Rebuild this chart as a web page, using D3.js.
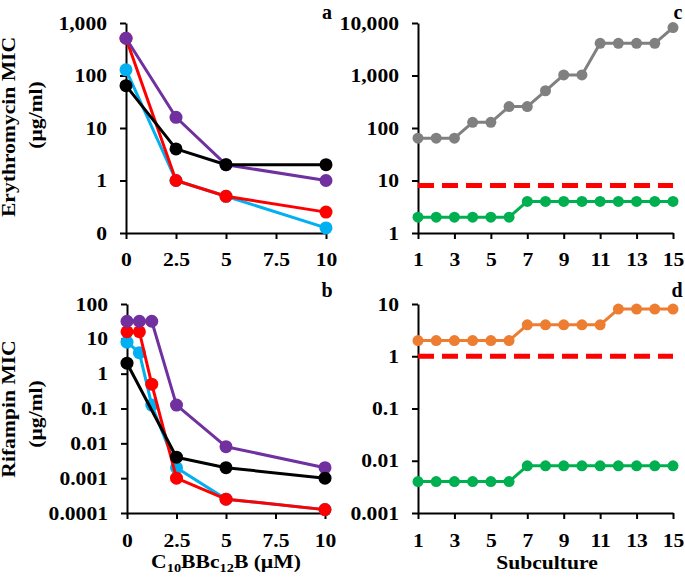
<!DOCTYPE html>
<html><head><meta charset="utf-8">
<script src="https://cdn.jsdelivr.net/npm/d3@7"></script>
<style>
body{margin:0;background:#fff}
svg{display:block}
text{font-family:"Liberation Serif","Times New Roman",Tinos,serif;font-weight:bold;fill:#000}
</style>
</head><body><svg id="c" width="685" height="579"></svg>
<script>
// ---- data ----
const concA = [0, 2.5, 5, 10];
const eryCyan = [128, 1, 0.5, 0.125];
const eryRed = [512, 1, 0.5, 0.25];
const eryPurple = [512, 16, 2, 1];
const eryBlack = [64, 4, 2, 2];

const concB = [0, 0.625, 1.25, 2.5, 5, 10];
const concBBlack = [0, 2.5, 5, 10];
const rifCyan = [8, 4, 0.125, 0.002, 0.00025, 0.000125];
const rifRed = [16, 16, 0.5, 0.001, 0.00025, 0.000125];
const rifPurple = [32, 32, 32, 0.125, 0.008, 0.002];
const rifBlack = [2, 0.004, 0.002, 0.001];

const subculture = [1,2,3,4,5,6,7,8,9,10,11,12,13,14,15];
const eryAlone = [64,64,64,128,128,256,256,512,1024,1024,4096,4096,4096,4096,8192];
const eryCombo = [2,2,2,2,2,2,4,4,4,4,4,4,4,4,4];
const eryBreakpoint = 8;
const rifAlone = [2,2,2,2,2,2,4,4,4,4,4,8,8,8,8];
const rifCombo = [0.004,0.004,0.004,0.004,0.004,0.004,0.008,0.008,0.008,0.008,0.008,0.008,0.008,0.008,0.008];
const rifBreakpoint = 1;

const concTicks = [0, 2.5, 5, 7.5, 10];
const subTicks = [1,3,5,7,9,11,13,15];
const aTicks = [0.1, 1, 10, 100, 1000];
const aLabels = ["0", "1", "10", "100", "1,000"];
const bTicks = [0.0001, 0.001, 0.01, 0.1, 1, 10, 100];
const bLabels = ["0.0001", "0.001", "0.01", "0.1", "1", "10", "100"];
const cTicks = [1, 10, 100, 1000, 10000];
const cLabels = ["1", "10", "100", "1,000", "10,000"];
const dTicks = [0.001, 0.01, 0.1, 1, 10];
const dLabels = ["0.001", "0.01", "0.1", "1", "10"];

const C = {purple:"#7030A0", cyan:"#00B0F0", red:"#FF0000", black:"#000000", grey:"#808080", green:"#00B050", orange:"#ED7D31"};
const SX = 1.2, FS = 18;

const svg = d3.select("#c");

function panel(opt){
  const x = d3.scaleLinear().domain(opt.xd).range(opt.xr);
  const y = d3.scaleLog().domain(opt.yd).range(opt.yr);
  const g = svg.append("g");
  const yl = opt.ylabels;
  const ya = g.append("g").attr("transform",`translate(${opt.xr[0]},0)`)
    .call(d3.axisLeft(y).tickValues(opt.yticks).tickFormat((d,i)=>yl[i]).tickSize(6).tickSizeOuter(0));
  const xa = g.append("g").attr("transform",`translate(0,${opt.yr[0]})`)
    .call(d3.axisBottom(x).tickValues(opt.xticks).tickFormat(d=>String(d)).tickSize(6).tickSizeOuter(0));
  [ya, xa].forEach(a=>{
    a.select(".domain").attr("stroke","#000").attr("stroke-width",2);
    a.selectAll(".tick line").attr("stroke","#000").attr("stroke-width",2);
    a.selectAll("text").style("font-size",FS+"px").attr("fill","#000");
  });
  ya.selectAll("text").attr("x",0).attr("dy","0.34em").attr("transform",`translate(-19,0) scale(${SX},1)`);
  xa.selectAll("text").attr("y",0).attr("dy",0).attr("transform",`translate(0,${opt.xlab}) scale(${SX},1)`);
  if (opt.ref !== undefined){
    g.append("line").attr("x1",x(opt.xd[0])).attr("x2",x(opt.xd[1]))
      .attr("y1",y(opt.ref)).attr("y2",y(opt.ref))
      .attr("stroke",C.red).attr("stroke-width",5).attr("stroke-dasharray","16,8");
  }
  opt.series.forEach(s=>{
    const pts = s.x.map((xv,i)=>[xv, s.y[i]]);
    g.append("path").datum(pts).attr("fill","none").attr("stroke",s.c).attr("stroke-width",3)
      .attr("stroke-linejoin","round")
      .attr("d", d3.line().x(d=>x(d[0])).y(d=>y(d[1])));
    g.selectAll(null).data(pts).enter().append("circle")
      .attr("cx",d=>x(d[0])).attr("cy",d=>y(d[1])).attr("r",opt.r).attr("fill",s.c);
  });
  g.append("text").attr("x",opt.letter[0]).attr("y",opt.letter[1]).attr("text-anchor","middle")
    .style("font-size","20px").text(opt.letterText);
  return {x,y,g};
}

panel({xd:[0,10], xr:[126,326], yd:[0.1,1000], yr:[233,23], yticks:aTicks, ylabels:aLabels, xticks:concTicks, xlab:33, r:6.5,
  series:[{x:concA,y:eryCyan,c:C.cyan},{x:concA,y:eryRed,c:C.red},{x:concA,y:eryPurple,c:C.purple},{x:concA,y:eryBlack,c:C.black}],
  letter:[327,19], letterText:"a"});
panel({xd:[0,10], xr:[127,325], yd:[0.0001,100], yr:[513,304], yticks:bTicks, ylabels:bLabels, xticks:concTicks, xlab:34, r:6.5,
  series:[{x:concB,y:rifCyan,c:C.cyan},{x:concB,y:rifRed,c:C.red},{x:concB,y:rifPurple,c:C.purple},{x:concBBlack,y:rifBlack,c:C.black}],
  letter:[327,297], letterText:"b"});
panel({xd:[1,15], xr:[418,673], yd:[1,10000], yr:[233,23], yticks:cTicks, ylabels:cLabels, xticks:subTicks, xlab:33, r:5.5, ref:eryBreakpoint,
  series:[{x:subculture,y:eryAlone,c:C.grey},{x:subculture,y:eryCombo,c:C.green}],
  letter:[678,19], letterText:"c"});
panel({xd:[1,15], xr:[418,673], yd:[0.001,10], yr:[513,304], yticks:dTicks, ylabels:dLabels, xticks:subTicks, xlab:34, r:5.5, ref:rifBreakpoint,
  series:[{x:subculture,y:rifAlone,c:C.orange},{x:subculture,y:rifCombo,c:C.green}],
  letter:[677,297], letterText:"d"});

function rotTitle(xp, yc, txt){
  svg.append("text").attr("text-anchor","middle").style("font-size",FS+"px")
    .attr("transform",`translate(${xp},${yc}) rotate(-90) scale(${SX},1)`).text(txt);
}
rotTitle(15, 127, "Erythromycin MIC");
rotTitle(42, 115, "(µg/ml)");
rotTitle(15, 409, "Rifampin MIC");
rotTitle(42, 414, "(µg/ml)");

const xt = svg.append("text").attr("text-anchor","middle").style("font-size",FS+"px")
  .attr("transform",`translate(226,568) scale(${SX},1)`);
xt.append("tspan").text("C");
xt.append("tspan").style("font-size","12px").attr("dy",4).text("10");
xt.append("tspan").attr("dy",-4).text("BBc");
xt.append("tspan").style("font-size","12px").attr("dy",4).text("12");
xt.append("tspan").attr("dy",-4).text("B (µM)");

svg.append("text").attr("text-anchor","middle").style("font-size",FS+"px")
  .attr("transform",`translate(547,569) scale(${SX},1)`).text("Subculture");
</script>
</body></html>
